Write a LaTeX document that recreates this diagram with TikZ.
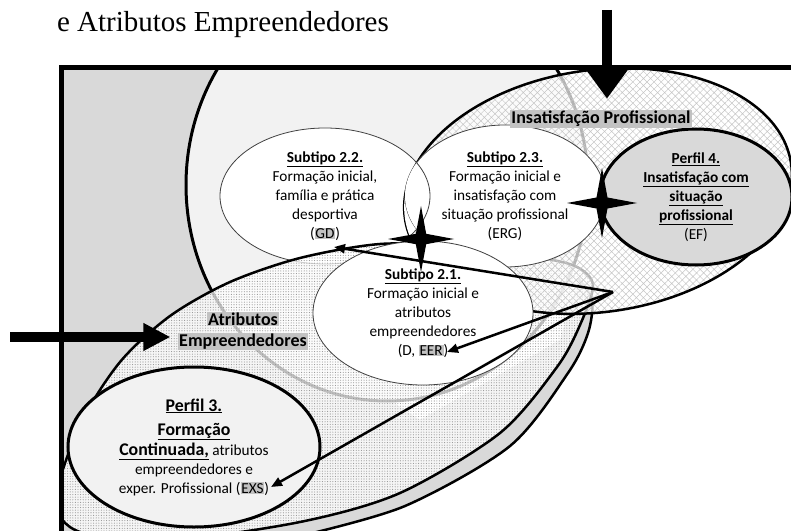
\documentclass[tikz,border=0pt]{standalone}
\usepackage{fontspec}
\setmainfont{Carlito}
\newfontfamily\titlefont{Liberation Serif}
\usetikzlibrary{shapes.geometric, arrows.meta, patterns.meta}

\definecolor{hlgray}{gray}{0.76}
\newcommand{\hl}[1]{{\setlength{\fboxsep}{0.8bp}\colorbox{hlgray}{#1}}}
\newcommand{\ulb}[1]{\underline{\textbf{#1}}}
\newcommand{\pbig}[1]{{\fontsize{17.8bp}{22bp}\selectfont\ulb{#1}}}

\begin{document}
\begin{tikzpicture}[
    x=1bp, y=1bp,
    every node/.style={inner sep=0pt, outer sep=0pt},
    subtipo/.style={ellipse, draw=black!75, line width=0.8bp, fill=white, align=center,
      font=\fontsize{15.3bp}{19bp}\selectfont},
    perfil/.style={ellipse, draw, line width=3bp, align=center,
      font=\fontsize{15.3bp}{19bp}\selectfont},
    zone/.style={align=center, font=\bfseries\fontsize{18bp}{21bp}\selectfont},
    spark/.style={star, star points=4, star point ratio=4.5, fill=black},
    link/.style={-{Triangle[length=11bp,width=9bp]}, line width=2.5bp},
    bigarrow/.style={line width=10bp}
  ]

  \useasboundingbox (0,0) rectangle (791,-531);

  % title
  \node[anchor=base west, font=\titlefont\fontsize{29bp}{29bp}\selectfont] (title) at (57,-32)
    {e Atributos Empreendedores};

  \begin{scope}
    \clip (61,-68) rectangle (791,-531);

    % grey zone and its band
    \fill[gray!30] (40,-60) -- (240,-60) -- (240,-300) -- (420,-420) -- (560,-340) -- (575,-290)
      -- plot[smooth] coordinates {(578,-278) (592,-300) (588,-333) (568,-373) (510,-446) (405,-506) (300,-536)}
      -- (40,-545) -- cycle;
    \draw[line width=2.5bp] plot[smooth] coordinates
      {(578,-278) (592,-300) (588,-333) (568,-373) (510,-446) (405,-506) (300,-536)};

    % big circle
    \draw[fill=gray!10, line width=3bp] (387,-185) ellipse [x radius=201, y radius=216];

    % subtipo 2.2
    \node[subtipo, minimum width=210bp, minimum height=136bp] (sub22) at (325,-196)
      {\ulb{Subtipo 2.2.}\\Formação inicial,\\família e prática\\desportiva\\(\hl{GD})};

    % atributos empreendedores
    \path[save path=\atribpath] plot[smooth cycle] coordinates {(56,-500) (80,-425) (120,-362)
      (170,-316) (230,-282) (300,-258) (380,-244) (460,-246) (530,-256) (575,-266) (593,-285)
      (580,-325) (557,-367) (500,-433) (400,-493) (300,-522) (170,-540) (80,-532)};
    \fill[white, fill opacity=0.75, use path=\atribpath];
    \path[pattern={Dots[distance=2.6bp, radius=0.55bp]}, pattern color=gray!85, use path=\atribpath];
    \draw[line width=2.5bp, use path=\atribpath];

    % insatisfacao profissional
    \path[save path=\insatpath, rotate around={8:(598,-191)}] (598,-191) ellipse [x radius=195, y radius=121];
    \fill[white, fill opacity=0.7, use path=\insatpath];
    \path[pattern={Hatch[angle=45, distance=5bp, line width=0.5bp]}, pattern color=gray!45, use path=\insatpath];
    \draw[line width=2.5bp, use path=\insatpath];

    % 2.2 stays on top of the zone and of 2.3
    \begin{scope}
      \clip[use path=\insatpath];
      \draw[fill=white, draw=black!75, line width=0.8bp] (325,-196) ellipse [x radius=105, y radius=68];
    \end{scope}
    \node[subtipo, minimum width=200bp, minimum height=142bp] (sub23) at (505,-196)
      {\ulb{Subtipo 2.3.}\\Formação inicial e\\insatisfação com\\situação profissional\\(ERG)};
    \begin{scope}
      \clip (505,-196) ellipse [x radius=100, y radius=71];
      \draw[fill=white, draw=black!75, line width=0.8bp] (325,-196) ellipse [x radius=105, y radius=68];
    \end{scope}

    % subtipo 2.1
    \node[subtipo, minimum width=220bp, minimum height=144bp] (sub21) at (423,-313)
      {\ulb{Subtipo 2.1.}\\Formação inicial e\\atributos\\empreendedores\\(D, \hl{EER})};

    % perfis
    \node[perfil, fill=gray!10, minimum width=252bp, minimum height=160bp] (perf3) at (194,-447)
      {\pbig{Perfil 3.}\\[5bp]\pbig{Formação}\\[1bp]\pbig{Continuada,} atributos\\empreendedores e\\exper. Profissional (\hl{EXS})};
    \node[perfil, fill=gray!30, minimum width=192bp, minimum height=136bp] (perf4) at (696,-197)
      {\ulb{Perfil 4.}\\\ulb{Insatisfação com}\\\ulb{situação}\\\ulb{profissional}\\(EF)};

    % stars
    \node[spark, minimum size=66bp] (star21) at (421,-239) {};
    \node[spark, minimum size=70bp] (star4) at (602,-203) {};

    % links
    \coordinate (apex) at (613,-292);
    \coordinate (gd) at (334,-247);
    \coordinate (eer) at (447,-352);
    \coordinate (exs) at (271,-487);
    \draw[link] (apex) -- (gd);
    \draw[link] (apex) -- (eer);
    \draw[link] (apex) -- (exs);

    % zone labels
    \node[zone, fill=hlgray, inner sep=1.5bp] (insat) at (601,-119) {Insatisfação Profissional};
    \node[zone] (atrib) at (243,-331) {\hl{Atributos}\\\hl{Empreendedores}};
  \end{scope}

  % frame
  \draw[line width=5bp] (61,-545) |- (800,-68);

  % incoming arrows
  \coordinate (topin) at (607,-10);
  \coordinate (leftin) at (10,-337);
  \draw[bigarrow, -{Triangle[length=29bp,width=40bp]}, shorten >=11bp] (topin) -- (insat.north -| topin);
  \draw[bigarrow, -{Triangle[length=27bp,width=26bp]}, shorten >=8bp] (leftin) -- (atrib.west |- leftin);

\end{tikzpicture}
\end{document}
